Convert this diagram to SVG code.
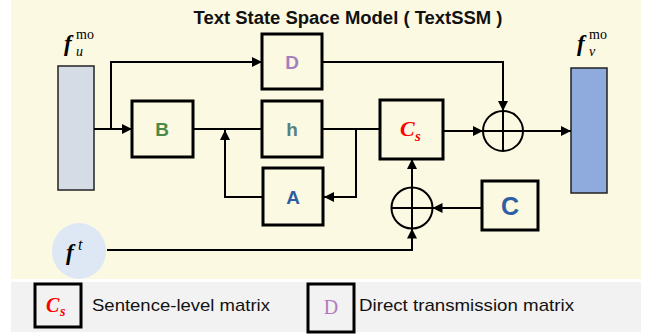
<svg xmlns="http://www.w3.org/2000/svg" width="654" height="335" viewBox="0 0 654 335">
<defs>
<marker id="arr" viewBox="0 0 10 10" refX="10" refY="5" markerWidth="10" markerHeight="10" markerUnits="userSpaceOnUse" orient="auto">
<path d="M0,0 L10,5 L0,10 z" fill="#000"/>
</marker>
<style>
.box{fill:none;stroke:#000;stroke-width:3}
.ln{fill:none;stroke:#000;stroke-width:2}
.lbl{font-family:"Liberation Sans",Arial,sans-serif;font-weight:bold;text-anchor:middle}
.math{font-family:"Liberation Serif","DejaVu Serif",serif}
.txt{font-family:"Liberation Sans",Arial,sans-serif;font-size:17px;fill:#111}
</style>
</defs>
<rect x="0" y="0" width="654" height="335" fill="#fff"/>
<rect x="11" y="0" width="630" height="279" fill="#fbf9e2"/>
<rect x="11" y="282" width="630" height="50" fill="#f2f2f2"/>
<text x="348" y="24" class="lbl" font-size="18" fill="#111" textLength="309" lengthAdjust="spacingAndGlyphs">Text State Space Model ( TextSSM )</text>

<g id="input-bar">
<rect x="58" y="66" width="36" height="124" fill="#d6dce5" stroke="#222" stroke-width="1.5"/>
<text x="64" y="51" class="math" font-size="23" font-weight="bold" font-style="italic">f</text>
<text x="76" y="56" class="math" font-size="14" font-style="italic">u</text>
<text x="76" y="39" class="math" font-size="14">mo</text>
</g>
<g id="output-bar">
<rect x="571" y="68" width="36" height="125" fill="#8faadc" stroke="#222" stroke-width="1.5"/>
<text x="577" y="51" class="math" font-size="23" font-weight="bold" font-style="italic">f</text>
<text x="589" y="56" class="math" font-size="14" font-style="italic">v</text>
<text x="589" y="39" class="math" font-size="14">mo</text>
</g>
<g id="ft">
<ellipse cx="79" cy="251" rx="27" ry="28" fill="#dde8f4"/>
<text x="66" y="260" class="math" font-size="23" font-weight="bold" font-style="italic">f</text>
<text x="78" y="250" class="math" font-size="16" font-style="italic">t</text>
</g>
<g id="D"><rect x="262" y="34" width="60" height="55" class="box"/><text x="292" y="69" class="lbl" font-size="19" fill="#a67fc0">D</text></g>
<g id="B"><rect x="132" y="101" width="61" height="56" class="box"/><text x="162" y="136" class="lbl" font-size="19" fill="#4a8a48">B</text></g>
<g id="h"><rect x="262" y="101" width="60" height="56" class="box"/><text x="292" y="136" class="lbl" font-size="19" fill="#5b8080">h</text></g>
<g id="A"><rect x="263" y="168" width="60" height="57" class="box"/><text x="293" y="204" class="lbl" font-size="19" fill="#2f5ea4">A</text></g>
<g id="Cs"><rect x="380" y="100" width="63" height="59" class="box"/>
<text x="400" y="136" class="math" font-size="22" font-weight="bold" font-style="italic" fill="#ff0000">C</text>
<text x="415" y="141" class="math" font-size="15" font-weight="bold" font-style="italic" fill="#ff0000">s</text></g>
<g id="C"><rect x="482" y="181" width="56" height="49" class="box"/><text x="510" y="215" class="lbl" font-size="25" fill="#2f5ea4">C</text></g>
<g id="sum-top"><circle cx="503" cy="131" r="20" class="ln"/><path d="M483,131 H523 M503,111 V151" class="ln"/></g>
<g id="sum-bottom"><circle cx="412" cy="208" r="20.5" class="ln"/><path d="M391.5,208 H432.5 M412,187.5 V228.5" class="ln"/></g>

<g id="connectors">
<path d="M94,129 H132" class="ln" marker-end="url(#arr)"/>
<path d="M111,129 V62 H262" class="ln" marker-end="url(#arr)"/>
<path d="M193,129 H262" class="ln"/>
<path d="M322,129 H380" class="ln"/>
<path d="M322,62 H503 V111" class="ln" marker-end="url(#arr)"/>
<path d="M443,131 H483" class="ln" marker-end="url(#arr)"/>
<path d="M523,131 H571" class="ln" marker-end="url(#arr)"/>
<path d="M356,129 V197 H324" class="ln" marker-end="url(#arr)"/>
<path d="M263,197 H225 V130" class="ln" marker-end="url(#arr)"/>
<path d="M412,187.5 V159" class="ln" marker-end="url(#arr)"/>
<path d="M482,208 H432.5" class="ln" marker-end="url(#arr)"/>
<path d="M107,250 H412 V228.5" class="ln" marker-end="url(#arr)"/>
</g>

<g id="legend">
<rect x="35" y="284" width="46" height="43" class="box"/>
<text x="46" y="312" class="math" font-size="20" font-weight="bold" font-style="italic" fill="#ff0000">C</text>
<text x="60" y="316" class="math" font-size="14" font-weight="bold" font-style="italic" fill="#ff0000">s</text>
<text x="92" y="311" class="txt" textLength="178" lengthAdjust="spacingAndGlyphs">Sentence-level matrix</text>
<rect x="308" y="284" width="46" height="48" class="box"/>
<text x="331" y="314" class="math" font-size="20" fill="#b07cc0" text-anchor="middle">D</text>
<text x="359" y="311" class="txt" textLength="215" lengthAdjust="spacingAndGlyphs">Direct transmission matrix</text>
</g>
</svg>
